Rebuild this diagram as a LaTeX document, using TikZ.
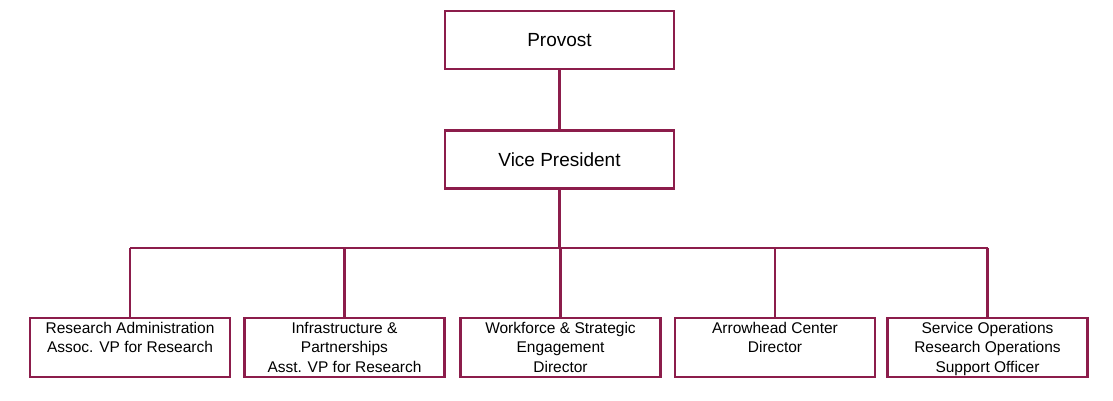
\documentclass[tikz,border=0pt]{standalone}
\usepackage{fontspec}
\setmainfont{Liberation Sans}
\definecolor{maroon}{HTML}{8C1D4B}
\begin{document}
\begin{tikzpicture}[x=1pt,y=-1pt,
  box/.style={draw=maroon,line width=2.6pt,minimum height=58pt,inner sep=0pt},
  top/.style={box,minimum width=229pt,font=\fontsize{19}{22}\selectfont},
  low/.style={box,minimum width=200pt,minimum height=59pt},
  lab/.style={anchor=north,align=center,inner sep=0pt,font=\fontsize{15.5}{19.3}\selectfont},
  conn/.style={draw=maroon,line width=2.6pt}]
\useasboundingbox (0,0) rectangle (1113,401);
\node[top] (p) at (559.5,40) {Provost};
\node[top] (v) at (559.5,159.5) {Vice President};
\coordinate (j) at (559.5,248);
\foreach \n/\x in {a/130,b/344.5,c/560.5,d/775,e/987.5}{
  \node[low] (\n) at (\x,347.5) {};
  \coordinate (\n t) at (\x,248);
}
\node[lab] at ([yshift=-5.5pt]a.north) {Research Administration\\Assoc. VP for Research};
\node[lab] at ([yshift=-5.5pt]b.north) {Infrastructure \&\\Partnerships\\Asst. VP for Research};
\node[lab] at ([yshift=-5.5pt]c.north) {Workforce \& Strategic\\Engagement\\Director};
\node[lab] at ([yshift=-5.5pt]d.north) {Arrowhead Center\\Director};
\node[lab] at ([yshift=-5.5pt]e.north) {Service Operations\\Research Operations\\Support Officer};
\draw[conn] (p) -- (v);
\draw[conn] (v) -- (j);
\draw[conn] (at) -- (et);
\foreach \n in {a,b,c,d,e}{\draw[conn] (\n t) -- (\n);}
\end{tikzpicture}
\end{document}
